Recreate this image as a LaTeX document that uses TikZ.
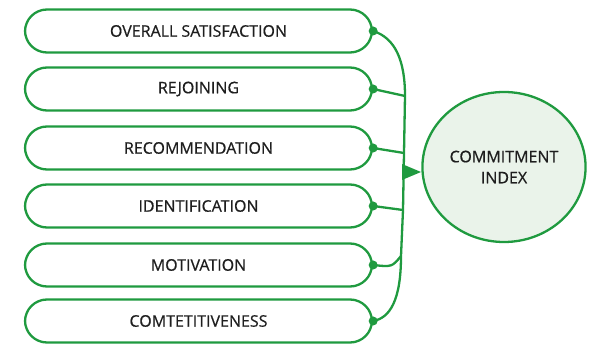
\documentclass[tikz,border=0pt]{standalone}
\usepackage{fontspec}
\setmainfont{Open Sans}[FakeBold=0.6,AutoFakeBold=0.6]
\newfontfamily\lblfont{Open Sans}[FakeBold=0.6]
\usetikzlibrary{arrows.meta,shapes.geometric}
\definecolor{gr}{HTML}{1F9A3F}
\definecolor{circfill}{HTML}{EAF3EA}
\definecolor{txt}{HTML}{1E1E1E}
\begin{document}
\begin{tikzpicture}[x=1pt,y=-1pt,
  pill/.style={draw=gr,line width=2.3pt,rectangle,rounded corners=22pt,minimum width=347pt,minimum height=43pt,inner sep=0pt,text=txt,font=\fontsize{16}{18}\selectfont\bfseries},
  link/.style={draw=gr,line width=2.3pt},
  dotm/.style={circle,fill=gr,inner sep=0pt,minimum size=9pt}]
\useasboundingbox (0,0) rectangle (589,344);
\node[pill] (p1) at (198.5,31) {OVERALL SATISFACTION};
\node[pill] (p2) at (198.5,89) {REJOINING};
\node[pill] (p3) at (198.5,148) {RECOMMENDATION};
\node[pill] (p4) at (198.5,206) {IDENTIFICATION};
\node[pill] (p5) at (198.5,265) {MOTIVATION};
\node[pill] (p6) at (198.5,321) {COMTETITIVENESS};
\node[ellipse,draw=gr,line width=2.3pt,fill=circfill,minimum width=158pt,minimum height=150pt,align=center,text=txt,font=\fontsize{16}{21}\selectfont\bfseries] (ci) at (504,167) {COMMITMENT\\INDEX};
\coordinate (b2) at (405,96);
\coordinate (b3) at (404,153);
\coordinate (b4) at (403,210);
\coordinate (b5) at (401,256);
\coordinate (ab) at (402,172);
\coordinate (ae) at (421,172);
\draw[link] (p1.east) .. controls (395,38) and (405,60) .. (b2) -- (b3) -- (b4) -- (b5) .. controls (401,300) and (390,318) .. (p6.east);
\draw[link] (p2.east) -- (b2);
\draw[link] (p3.east) -- (b3);
\draw[link] (p4.east) -- (b4);
\draw[link] (p5.east) .. controls (392,267) .. (b5);
\fill[gr] (ab) -- ++(0,-8) -- (ae) -- ++(-19,8) -- cycle;
\foreach \n in {p1,p2,p3,p4,p5,p6} \node[dotm] at (\n.east) {};
\end{tikzpicture}
\end{document}
